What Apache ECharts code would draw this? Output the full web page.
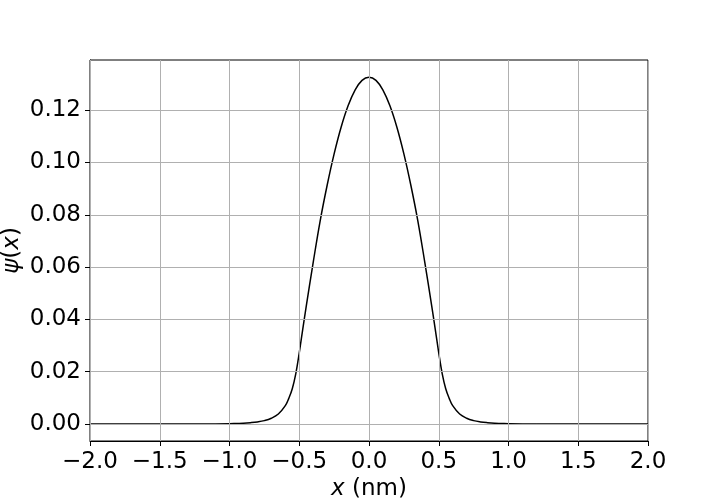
<!DOCTYPE html>
<html>
<head>
<meta charset="utf-8">
<script src="https://cdn.jsdelivr.net/npm/echarts@6/dist/echarts.min.js"></script>
<style>html,body{margin:0;padding:0;background:#fff}#c{width:720px;height:504px}</style>
</head>
<body>
<div id="c"></div>
<script>
// Data
var xValues = [-2.0, -1.5, -1.2, -1.0, -0.95, -0.9, -0.85, -0.8, -0.75, -0.7, -0.65, -0.6, -0.575, -0.55, -0.525, -0.5, -0.475, -0.45, -0.4, -0.35, -0.3, -0.25, -0.2, -0.15, -0.1, -0.05,
  0.0, 0.05, 0.1, 0.15, 0.2, 0.25, 0.3, 0.35, 0.4, 0.45, 0.475, 0.5, 0.525, 0.55, 0.575, 0.6, 0.65, 0.7, 0.75, 0.8, 0.85, 0.9, 0.95, 1.0, 1.2, 1.5, 2.0];
var psiValues = [0, 0, 0.00002, 0.0001, 0.0002, 0.0003, 0.0005, 0.0008, 0.0013, 0.0022, 0.0038, 0.0070, 0.0098, 0.0135, 0.0192, 0.0272, 0.0362, 0.0450, 0.0618, 0.0777, 0.0913, 0.1033, 0.1135, 0.1217, 0.1277, 0.1314,
  0.1326, 0.1314, 0.1277, 0.1217, 0.1135, 0.1033, 0.0913, 0.0777, 0.0618, 0.0450, 0.0362, 0.0272, 0.0192, 0.0135, 0.0098, 0.0070, 0.0038, 0.0022, 0.0013, 0.0008, 0.0005, 0.0003, 0.0002, 0.0001, 0.00002, 0, 0];
var xTicks = [-2.0, -1.5, -1.0, -0.5, 0.0, 0.5, 1.0, 1.5, 2.0];
var yTicks = [0.00, 0.02, 0.04, 0.06, 0.08, 0.10, 0.12];
var xRange = [-2.0, 2.0];
var yRange = [-0.0065, 0.1392];

var chart = echarts.init(document.getElementById('c'), null, {renderer: 'canvas'});
var font = 'DejaVu Sans';
var fs = 23;
var gridLines = [];
xTicks.forEach(function (v) { gridLines.push({xAxis: v}); });
yTicks.forEach(function (v) { gridLines.push({yAxis: v}); });

chart.setOption({
  backgroundColor: '#fff',
  animation: false,
  grid: {left: 90, top: 60, width: 558, height: 381, containLabel: false, outerBoundsMode: 'none',
    show: true, borderColor: '#000', borderWidth: 1, backgroundColor: 'transparent'},
  xAxis: {
    type: 'value', min: xRange[0], max: xRange[1], interval: 0.5,
    axisLine: {show: true, onZero: false, lineStyle: {color: '#000', width: 1}},
    axisTick: {show: true, inside: false, length: 5, lineStyle: {color: '#000', width: 1}},
    splitLine: {show: false},
    axisLabel: {color: '#000', fontFamily: font, fontSize: fs, margin: 10,
      formatter: function (v) { return v.toFixed(1).replace('-', '\u2212'); }},
    name: '{i|x} (nm)', nameLocation: 'middle', nameGap: 37, nameMoveOverlap: false,
    nameTextStyle: {color: '#000', fontFamily: font, fontSize: fs,
      rich: {i: {fontStyle: 'italic', fontFamily: font, fontSize: fs, color: '#000'}}}
  },
  yAxis: {
    type: 'value', min: yRange[0], max: yRange[1],
    axisLine: {show: true, onZero: false, lineStyle: {color: '#000', width: 1}},
    axisTick: {show: true, inside: false, length: 5, customValues: yTicks, lineStyle: {color: '#000', width: 1}},
    splitLine: {show: false},
    axisLabel: {color: '#000', fontFamily: font, fontSize: fs, margin: 9, customValues: yTicks,
      formatter: function (v) { return v.toFixed(2); }},
    name: '{i|\u03c8}({i|x})', nameLocation: 'middle', nameGap: 66, nameRotate: 90, nameMoveOverlap: false,
    nameTextStyle: {color: '#000', fontFamily: font, fontSize: fs,
      rich: {i: {fontStyle: 'italic', fontFamily: font, fontSize: fs, color: '#000'}}}
  },
  series: [
    {
      type: 'line', data: [], silent: true,
      markLine: {silent: true, symbol: 'none', label: {show: false},
        lineStyle: {color: '#b0b0b0', width: 1, type: 'solid'}, data: gridLines}
    },
    {
      type: 'line', showSymbol: false, smooth: 0.4,
      lineStyle: {color: '#000', width: 1.5},
      data: xValues.map(function (x, i) { return [x, psiValues[i]]; })
    }
  ]
});
</script>
</body>
</html>
